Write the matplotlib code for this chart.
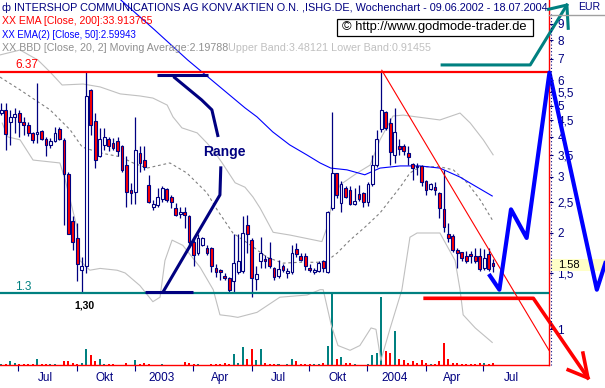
import numpy as np
import matplotlib
matplotlib.use('Agg')
import matplotlib.pyplot as plt
from matplotlib.ticker import FixedLocator, FixedFormatter, NullFormatter, NullLocator
from matplotlib.patches import Rectangle
from matplotlib.lines import Line2D

plt.rcParams['font.family'] = ['Liberation Sans', 'DejaVu Sans']

# weekly candles Intershop (ISHG.DE), 09.06.2002 - 18.07.2004, index = week
opens = [4.74, 4.85, 4.45, 4.62, 4.74, 4.45, 4.35, 4.11, 4.08, 4.17,
         3.94, 3.77, 3.88, 4.23, 3.91, 3.06, 2.18, 1.93, 1.53, 1.58,
         5.60, 4.48, 3.47, 3.77, 3.94, 3.83, 3.88, 3.74, 3.26, 2.72,
         2.69, 3.56, 3.38, 2.82, 2.41, 2.44, 2.55, 2.75, 2.59, 2.40,
         2.30, 2.32, 2.26, 1.88, 1.73, 1.84, 1.80, 1.80, 1.56, 1.53,
         1.47, 1.45, 1.42, 1.51, 1.52, 2.12, 1.90, 1.44, 1.63, 1.645,
         1.67, 1.56, 1.47, 1.58, 1.50, 1.51, 1.78, 1.69, 1.69, 1.55,
         1.51, 1.52, 1.63, 1.51, 2.40, 3.07, 2.48, 2.77, 2.72, 2.46,
         2.64, 2.67, 2.50, 2.84, 3.26, 4.23, 4.78, 4.42, 3.50, 3.74,
         3.74, 3.56, 3.29, 3.23, 3.24, 2.90, 2.75, 2.79, 2.67, 2.38,
         1.99, 1.96, 1.77, 1.74, 1.69, 1.72, 1.69, 1.69, 1.55, 1.72,
         1.61]
highs = [5.10, 5.10, 4.85, 4.93, 4.85, 4.61, 4.45, 4.15, 5.90, 4.20,
         3.98, 3.96, 4.29, 4.29, 3.95, 3.10, 2.26, 2.15, 1.68, 6.37,
         5.62, 4.74, 4.26, 4.26, 3.98, 3.96, 3.98, 3.77, 3.47, 2.86,
         4.61, 3.74, 3.74, 3.03, 2.54, 2.77, 2.80, 2.77, 2.63, 2.48,
         2.41, 2.41, 2.27, 1.94, 1.99, 1.95, 1.83, 1.81, 1.60, 1.54,
         1.50, 1.46, 1.99, 1.99, 2.26, 2.28, 1.93, 1.58, 1.94, 1.71,
         1.88, 1.57, 1.65, 1.60, 1.56, 1.83, 1.86, 1.73, 1.73, 1.60,
         1.55, 1.64, 1.65, 2.34, 4.78, 3.08, 2.90, 2.80, 2.80, 2.77,
         2.82, 2.68, 2.88, 3.50, 4.20, 6.37, 4.80, 4.58, 4.93, 3.94,
         3.80, 3.74, 3.31, 3.31, 3.25, 2.93, 2.86, 2.88, 2.69, 3.15,
         2.15, 1.98, 1.79, 1.75, 1.76, 1.76, 1.79, 1.79, 1.78, 1.79,
         1.66]
lows = [4.67, 3.63, 3.77, 4.10, 3.98, 4.05, 4.02, 3.83, 3.83, 3.91,
        3.47, 3.69, 3.86, 3.91, 2.12, 1.98, 1.77, 1.42, 1.30, 1.50,
        4.05, 3.19, 3.45, 3.63, 3.60, 3.63, 3.47, 3.10, 2.41, 2.46,
        2.46, 3.10, 3.15, 2.48, 2.36, 2.41, 2.50, 2.50, 2.39, 2.26,
        2.23, 2.07, 1.81, 1.58, 1.71, 1.82, 1.71, 1.51, 1.46, 1.43,
        1.43, 1.30, 1.30, 1.49, 1.50, 1.73, 1.26, 1.33, 1.56, 1.56,
        1.56, 1.43, 1.45, 1.51, 1.45, 1.49, 1.68, 1.63, 1.53, 1.51,
        1.49, 1.51, 1.51, 1.50, 2.36, 2.57, 2.32, 2.57, 2.44, 2.44,
        2.52, 2.41, 2.43, 2.80, 3.21, 4.15, 4.20, 3.26, 3.31, 3.50,
        3.50, 3.26, 2.93, 3.03, 2.80, 2.63, 2.72, 2.63, 2.23, 2.02,
        1.88, 1.75, 1.55, 1.63, 1.61, 1.61, 1.61, 1.52, 1.53, 1.52,
        1.51]
closes = [4.85, 4.08, 4.61, 4.70, 4.45, 4.35, 4.12, 3.91, 4.12, 3.94,
          3.77, 3.88, 4.11, 3.94, 3.06, 1.99, 1.88, 1.60, 1.58, 5.37,
          4.35, 3.38, 3.94, 3.98, 3.74, 3.69, 3.60, 3.15, 2.69, 2.66,
          3.63, 3.31, 3.21, 2.50, 2.46, 2.59, 2.77, 2.54, 2.50, 2.28,
          2.32, 2.27, 1.88, 1.71, 1.93, 1.93, 1.73, 1.58, 1.51, 1.51,
          1.45, 1.33, 1.61, 1.63, 2.00, 1.98, 1.45, 1.49, 1.73, 1.635,
          1.58, 1.46, 1.54, 1.53, 1.52, 1.73, 1.72, 1.65, 1.58, 1.53,
          1.53, 1.61, 1.56, 2.32, 3.07, 2.63, 2.84, 2.60, 2.46, 2.52,
          2.55, 2.50, 2.84, 3.26, 3.94, 4.85, 4.26, 3.59, 4.14, 3.66,
          3.62, 3.46, 3.19, 3.21, 2.88, 2.73, 2.84, 2.72, 2.39, 2.09,
          1.93, 1.77, 1.73, 1.67, 1.63, 1.69, 1.63, 1.54, 1.67, 1.54,
          1.58]
# volume in Mio.
volumes = [0.04, 0.04, 0.12, 0.08, 0.04, 0.04, 0.04, 0.04, 0.18, 0.04,
           0.04, 0.04, 0.04, 0.02, 0.12, 0.12, 0.08, 0.04, 0.08, 0.47,
           0.29, 0.12, 0.18, 0.04, 0.04, 0.04, 0.01, 0.01, 0.08, 0.01,
           0.15, 0.04, 0.08, 0.04, 0.01, 0.01, 0.04, 0.01, 0.01, 0.01,
           0.01, 0.09, 0.08, 0.04, 0.04, 0.01, 0.01, 0.04, 0.04, 0.04,
           0.08, 0.04, 0.32, 0.08, 0.52, 0.18, 0.47, 0.15, 0.47, 0.08,
           0.04, 0.04, 0.04, 0.01, 0.04, 0.18, 0.12, 0.04, 0.04, 0.04,
           0.04, 0.04, 0.08, 0.55, 2.10, 0.18, 0.25, 0.08, 0.08, 0.04,
           0.01, 0.01, 0.04, 0.29, 0.34, 1.96, 0.42, 0.34, 0.99, 0.18,
           0.15, 0.08, 0.12, 0.08, 0.15, 0.08, 0.04, 0.04, 0.12, 0.65,
           0.18, 0.08, 0.08, 0.04, 0.04, 0.04, 0.04, 0.08, 0.08, 0.04,
           0.08]

# indicators (week, price)
ema50_x = [26.7, 34.3, 41.7, 54.5, 57.2, 60.7, 64.5, 68.3, 71.3, 73.7, 77.3,
           81.3, 84.7, 89.2, 93.6, 98.1, 102.6, 105.5, 109.8]
ema50_y = [10.7, 8.62, 6.94, 4.92, 4.61, 4.14, 3.77, 3.51, 3.31, 3.19, 3.15,
           3.04, 3.19, 3.24, 3.24, 3.19, 2.99, 2.83, 2.61]
bb_up_x = [-0.3, 4.2, 8.2, 10.9, 13.6, 18.3, 22.1, 26.6, 31.0, 33.9, 37.1, 38.4,
           40.4, 43.8, 46.0, 47.4, 49.4, 52.3, 54.5, 56.3, 57.9, 60.8, 64.6,
           71.7, 72.9, 74.0, 75.8, 79.6, 82.5, 84.7, 87.6, 89.9, 98.1, 102.6,
           104.9, 107.8, 110.0]
bb_up_y = [7.20, 7.46, 6.94, 6.37, 5.80, 5.84, 5.72, 5.44, 5.36, 5.28, 5.02, 4.61,
           4.26, 4.11, 3.82, 3.63, 3.31, 2.87, 2.78, 2.59, 2.39, 2.01, 1.97,
           1.88, 2.09, 2.50, 2.83, 3.08, 3.26, 3.91, 4.64, 4.67, 4.51, 4.74,
           4.41, 3.91, 3.51]
bb_mid_x = [-0.3, 4.2, 10.9, 15.4, 18.1, 22.1, 26.6, 29.5, 32.6, 37.7, 41.5,
            46.0, 48.3, 51.8, 56.3, 59.4, 63.0, 66.8, 71.3, 72.9, 75.1, 78.0,
            81.4, 84.7, 89.2, 91.4, 93.7, 98.1, 101.1, 104.2, 107.1, 109.8]
bb_mid_y = [6.14, 5.60, 4.85, 4.20, 3.71, 3.56, 3.46, 3.31, 3.19, 3.31, 3.08,
            2.67, 2.36, 2.00, 1.81, 1.68, 1.61, 1.62, 1.62, 1.64, 1.73, 1.90,
            2.09, 2.31, 2.78, 3.08, 3.22, 3.22, 3.15, 2.87, 2.54, 2.20]
bb_lo_x = [0.2, 1.5, 4.2, 7.1, 13.1, 14.3, 16.9, 17.6, 19.8, 22.1, 25.9, 27.7,
           31.0, 33.9, 35.5, 36.6, 38.2, 40.6, 44.5, 47.4, 48.9, 51.2, 52.9,
           57.2, 62.3, 68.4, 71.3, 72.0, 73.8, 75.3, 78.0, 80.2, 82.7, 83.8,
           84.9, 86.9, 89.6, 91.4, 93.0, 98.1, 101.5, 102.6, 103.3, 106.0, 109.8]
bb_lo_y = [4.41, 3.99, 3.91, 3.38, 3.31, 2.93, 2.09, 1.64, 1.53, 1.55, 1.53, 1.50,
           1.37, 1.22, 1.26, 1.64, 1.90, 1.83, 1.56, 1.33, 1.11, 1.10, 1.09,
           1.13, 1.26, 1.28, 1.33, 1.33, 1.03, 0.89, 0.86, 0.89, 1.01, 1.00,
           0.80, 1.00, 1.33, 1.94, 2.00, 2.00, 1.64, 1.33, 1.11, 1.01, 0.91]

# chart marks (week, price)
range_high, range_low, last_price = 6.37, 1.30, 1.58
trend_x, trend_y = [85.1, 122.5], [6.45, 0.86]
bracket_top_x, bracket_top_y = [34.8, 46.2], [6.23, 6.23]
zig_top_x, zig_top_y = [38.5, 44.8, 47.1, 48.5], [6.16, 5.21, 4.85, 3.99]
bracket_bot_x, bracket_bot_y = [32.1, 42.8], [1.31, 1.31]
zig_bot_x, zig_bot_y = [36.2, 48.9, 49.1], [1.31, 2.63, 3.23]
wave_x = [109.3, 111.4, 114.0, 117.5, 122.6, 133.2, 135.1]
wave_y = [1.47, 1.33, 2.37, 1.93, 6.34, 1.33, 1.61]
teal_arrow_x, teal_arrow_y = [98.6, 118.3, 126.5], [6.70, 6.70, 10.31]
teal_head_x, teal_head_y = [122.4, 126.5, 126.8], [10.0, 10.31, 8.72]
red_arrow_x, red_arrow_y = [94.8, 119.0, 131.2], [1.25, 1.25, 0.705]
red_head_x, red_head_y = [126.8, 131.2, 130.1], [0.747, 0.705, 0.843]

# axis labels
price_ticks = [1, 1.5, 2, 2.5, 3, 3.5, 4, 4.5, 5, 5.5, 6, 7, 8, 9]
price_labels = ['1', '1,5', '2', '2,5', '3', '3,5', '4', '4,5', '5', '5,5', '6', '7', '8', '9']
quarter_ticks = [3.8, 17.0, 30.0, 42.95, 56.0, 68.9, 81.9, 94.9, 107.8]
label_pos = [9.93, 23.2, 35.95, 48.9, 61.9, 75.1, 87.9, 100.8, 114.0]
month_labels = ['Jul', 'Okt', '2003', 'Apr', 'Jul', 'Okt', '2004', 'Apr', 'Jul']

NAVY, RED, TEAL, BLUE = '#000080', '#ff0000', '#008080', '#0000ff'
W, H = 605, 388

fig = plt.figure(figsize=(W / 100, H / 100), dpi=100)
fig.patch.set_facecolor('white')
ax = fig.add_axes([0, 1 - 365.3 / H, 549 / W, 365.3 / H])
vax = ax.twinx()
vax.set_zorder(ax.get_zorder() - 1)
ax.patch.set_visible(False)

ax.set_yscale('log')
ax.set_xlim(-0.29, 122.5)
ax.set_ylim(0.772, 10.69)

idx = np.arange(len(opens))
o, h, l, c = map(np.array, (opens, highs, lows, closes))
up = c >= o

# volume
vax.bar(idx, volumes, width=0.45, color=np.where(up, TEAL, RED), linewidth=0)
vax.set_ylim(0, 365.3 / 35)
vax.axis('off')

# bands and ema
ax.plot(bb_up_x, bb_up_y, color='#c0c0c0', lw=0.8, zorder=2)
ax.plot(bb_lo_x, bb_lo_y, color='#c0c0c0', lw=0.8, zorder=2)
ax.plot(bb_mid_x, bb_mid_y, color='#808080', lw=0.8, ls=(0, (2.5, 2.5)), zorder=2)
ax.plot(ema50_x, ema50_y, color=BLUE, lw=0.8, zorder=2)

# candles
ax.vlines(idx, l, h, color=NAVY, lw=0.9, zorder=3)
lo_b = np.minimum(o, c)
hi_b = np.maximum(np.maximum(o, c), lo_b * 1.012)
ax.bar(idx, hi_b - lo_b, bottom=lo_b, width=0.62, color=np.where(up, 'white', RED),
       edgecolor=NAVY, linewidth=0.8, zorder=4)

ax.axhline(range_high, color=RED, lw=1.6, zorder=5)
ax.axhline(range_low, color=TEAL, lw=1.6, zorder=5)
ax.plot(trend_x, trend_y, color=RED, lw=0.8, zorder=5)

# drawings
kw = dict(color=NAVY, lw=2.2, solid_capstyle='butt', zorder=6)
ax.plot(bracket_top_x, bracket_top_y, **kw)
ax.plot(zig_top_x, zig_top_y, **kw)
ax.plot(bracket_bot_x, bracket_bot_y, **kw)
ax.plot(zig_bot_x, zig_bot_y, **kw)
ax.plot(wave_x, wave_y, color=BLUE, lw=3, zorder=7, clip_on=False)
ax.plot(teal_arrow_x, teal_arrow_y, color=TEAL, lw=2.2, zorder=7, clip_on=False)
ax.plot(teal_head_x, teal_head_y, color=TEAL, lw=2.2, zorder=7, clip_on=False)
ax.plot(red_arrow_x, red_arrow_y, color=RED, lw=2.6, zorder=7, clip_on=False)
ax.plot(red_head_x, red_head_y, color=RED, lw=2.6, zorder=7, clip_on=False)

ax.text(224 / 549, 1 - 152 / 365.3, 'Range', transform=ax.transAxes, ha='center', va='center',
        color=NAVY, fontsize=10, fontweight='bold', zorder=8)
ax.text(84 / 549, 1 - 305.5 / 365.3, '1,30', transform=ax.transAxes, ha='center', va='center',
        color='black', fontsize=7.5, fontweight='bold', zorder=8)
ax.text(15 / 549, 1 - 65 / 365.3, '6.37', transform=ax.transAxes, ha='left', va='center',
        color=RED, fontsize=8.5, zorder=8)
ax.text(15 / 549, 1 - 287 / 365.3, '1.3', transform=ax.transAxes, ha='left', va='center',
        color=TEAL, fontsize=8.5, zorder=8)

# axes styling
for s in ('left', 'top'):
    ax.spines[s].set_visible(False)
for s in ('right', 'bottom'):
    ax.spines[s].set_color(RED)
    ax.spines[s].set_linewidth(1.0)

ax.yaxis.tick_right()
ax.yaxis.set_major_locator(FixedLocator(price_ticks))
ax.yaxis.set_major_formatter(FixedFormatter(price_labels))
ax.yaxis.set_minor_locator(NullLocator())
ax.tick_params(axis='y', which='major', direction='out', length=3, width=0.8,
               color=NAVY, labelcolor=NAVY, labelsize=8.5, pad=3)

ax.xaxis.set_major_locator(FixedLocator(quarter_ticks))
ax.xaxis.set_major_formatter(NullFormatter())
ax.xaxis.set_minor_locator(FixedLocator(label_pos))
ax.xaxis.set_minor_formatter(FixedFormatter(month_labels))
ax.tick_params(axis='x', which='major', direction='out', length=4, width=0.8, color=NAVY)
ax.tick_params(axis='x', which='minor', length=0, pad=5, labelcolor=NAVY, labelsize=8.5)

# last price box on the scale
ax.add_patch(Rectangle((551 / W, 1 - 270.5 / H), 54 / W, 12 / H, transform=fig.transFigure,
                       facecolor='#ffffc8', edgecolor='none', clip_on=False, zorder=2.6))
ax.text(558 / W, 1 - 264.5 / H, '%.2f' % last_price, transform=fig.transFigure, ha='left',
        va='center', fontsize=8, color='black', zorder=2.7)

fig.add_artist(Line2D([551 / W, 551 / W], [1 - 14 / H, 1 - 365 / H], color=NAVY, lw=0.8,
                      ls=(0, (1, 2))))
fig.add_artist(Line2D([549 / W, 1], [1 - 15 / H, 1 - 15 / H], color='#a0a0a0', lw=1))

# header
renderer = fig.canvas.get_renderer()


def put_text(x, y, s, width=None, **kw):
    t = fig.text(x / W, 1 - y / H, s, ha='left', va='center', **kw)
    if width:
        bw = t.get_window_extent(renderer).width
        t.set_fontsize(t.get_fontsize() * width / bw)
    return t


put_text(2, 7.5, 'ф INTERSHOP COMMUNICATIONS AG KONV.AKTIEN O.N. ,ISHG.DE, Wochenchart - 09.06.2002 - 18.07.2004',
         545, color=NAVY, fontsize=8.5)
put_text(2, 21, 'XX EMA [Close, 200]:33.913765', 150, color=RED, fontsize=8.5)
put_text(2, 34.5, 'XX EMA(2) [Close, 50]:2.59943', 134, color=BLUE, fontsize=8.5)
put_text(2, 48, 'XX BBD [Close, 20, 2] Moving Average:2.19788', 223, color='#909090', fontsize=8.5)
put_text(228, 48, 'Upper Band:3.48121 Lower Band:0.91455', 202, color='#c0c0c0', fontsize=8.5)
put_text(578, 7.5, 'EUR', 22, color=NAVY, fontsize=8.5)

cp = put_text(342, 27, '© http://www.godmode-trader.de', 185, color='black', fontsize=9)
fig.add_artist(Rectangle((337 / W, 1 - 35.5 / H), 196 / W, 17 / H, transform=fig.transFigure,
                         facecolor='white', edgecolor='black', lw=0.9, zorder=2.9))

fig.savefig('out.png', dpi=100)
